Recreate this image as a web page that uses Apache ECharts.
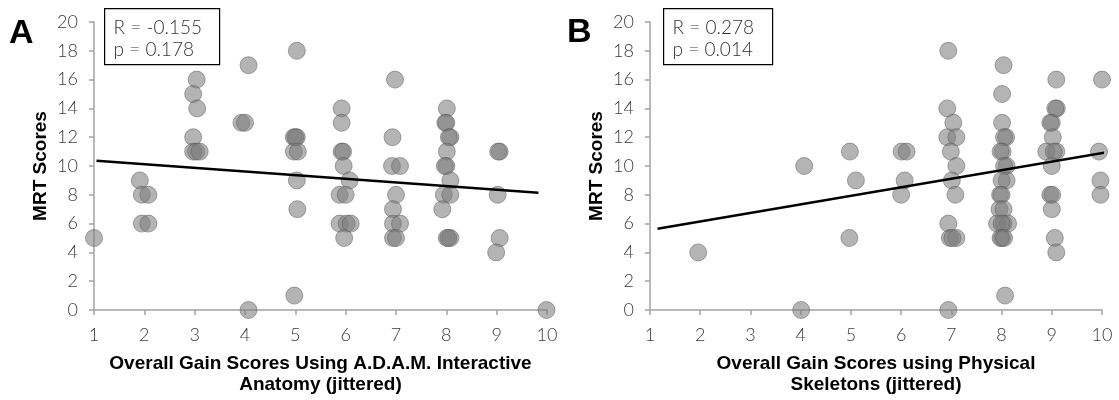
<!DOCTYPE html>
<html><head><meta charset="utf-8">
<script src="https://cdn.jsdelivr.net/npm/echarts@6/dist/echarts.min.js"></script>
<style>html,body{margin:0;padding:0;background:#fff;overflow:hidden}#c{width:1119px;height:400px}</style>
</head><body><div id="c"></div>
<script>
// Panel A: A.D.A.M. Interactive Anatomy (jittered gain scores) vs MRT
const xA = [1.0,1.91,1.95,2.08,1.95,2.08,
  3.04,2.97,3.05,2.97,2.97,3.03,3.1,
  4.07,3.93,4.0,4.07,
  5.03,4.97,5.03,5.0,4.97,5.05,5.03,5.04,4.98,
  5.92,5.92,5.92,5.95,5.96,6.08,5.88,6.0,5.88,6.02,6.1,5.97,
  6.98,6.93,6.92,7.08,7.0,6.94,6.94,7.08,6.94,7.0,
  8.01,7.98,8.0,8.08,8.05,8.01,8.0,7.97,8.08,7.95,8.08,7.92,8.01,8.08,8.04,
  9.06,9.03,9.02,9.06,8.99,9.99];
const yA = [5,9,8,8,6,6,
  16,15,14,12,11,11,11,
  17,13,13,0,
  18,12,12,12,11,11,9,7,1,
  14,13,11,11,10,9,8,8,6,6,6,5,
  16,12,10,10,8,7,6,6,5,5,
  14,13,13,12,12,11,10,10,9,8,8,7,5,5,5,
  11,11,8,5,4,0];
// Panel B: Physical Skeletons
const xB = [1.96,4.07,4.01,4.98,5.1,4.97,
  6.01,6.11,6.07,6.0,
  6.94,6.92,7.04,6.92,7.1,6.99,7.1,7.01,7.08,6.94,6.97,7.1,7.02,6.94,
  8.04,8.01,8.01,8.09,8.05,8.02,7.98,8.1,8.05,8.1,8.0,7.97,8.0,7.96,8.04,7.91,8.04,8.13,8.0,8.01,7.98,8.05,8.07,
  9.09,9.1,9.07,9.0,8.97,9.02,8.89,9.09,9.04,9.0,8.97,9.01,9.0,9.06,9.09,
  10.0,9.94,9.97,9.97];
const yB = [4,10,0,11,9,5,
  11,11,9,8,
  18,14,13,12,12,11,10,9,8,6,5,5,5,0,
  17,15,13,12,12,11,11,10,10,9,9,8,8,7,7,6,6,6,6,5,5,5,1,
  16,14,14,13,13,12,11,11,11,10,8,8,7,5,4,
  16,11,9,8];
// Fitted regression lines (endpoints)
const fitA = [[1.05,10.36],[9.83,8.15]];
const fitB = [[1.15,5.64],[10.05,10.93]];
const statsA = ['R = -0.155','p = 0.178'];
const statsB = ['R = 0.278','p = 0.014'];
const xTitleA = 'Overall Gain Scores Using A.D.A.M. Interactive\nAnatomy (jittered)';
const xTitleB = 'Overall Gain Scores using Physical\nSkeletons (jittered)';
const yTitle = 'MRT Scores';

const zip = (xs, ys) => xs.map((x, i) => [x, ys[i]]);
const tickFont = {fontFamily:'Lato', fontWeight:300, fontSize:18, color:'#3a3a3a'};
const axisGray = '#a3a3a3';
const titleFont = {fontFamily:'Liberation Sans', fontWeight:'bold', fontSize:19, color:'#000', lineHeight:21};

function xAxis(idx, name){
  return {gridIndex:idx, type:'value', min:1, max:10, interval:1,
    name:name, nameLocation:'middle', nameGap:43,
    nameTextStyle:titleFont,
    axisLine:{show:true, onZero:false, lineStyle:{color:axisGray, width:1.5}},
    axisTick:{show:true, length:5, lineStyle:{color:axisGray, width:1.5}},
    axisLabel:{margin:16, ...tickFont}, splitLine:{show:false}};
}
function yAxis(idx){
  return {gridIndex:idx, type:'value', min:0, max:20, interval:2,
    name:yTitle, nameLocation:'middle', nameGap:43, nameRotate:90,
    nameTextStyle:titleFont,
    axisLine:{show:true, onZero:false, lineStyle:{color:axisGray, width:1.5}},
    axisTick:{show:true, length:5, lineStyle:{color:axisGray, width:1.5}},
    axisLabel:{margin:16, ...tickFont}, splitLine:{show:false}};
}
function scatter(idx, data){
  return {type:'scatter', xAxisIndex:idx, yAxisIndex:idx, data:data, symbolSize:17, clip:false,
    itemStyle:{color:'rgba(125,125,125,0.72)', borderColor:'rgba(85,85,85,0.6)', borderWidth:1},
    silent:true, animation:false, z:2};
}
function fit(idx, data){
  return {type:'line', xAxisIndex:idx, yAxisIndex:idx, data:data, symbol:'none',
    lineStyle:{color:'#000', width:2.5}, silent:true, animation:false, z:3};
}
function statBox(left, width, lines){
  return {type:'group', left:left, top:8, children:[
    {type:'rect', shape:{x:0, y:0, width:width, height:56}, style:{fill:'#fff', stroke:'#000', lineWidth:1.2}},
    {type:'text', x:9, y:8, style:{text:lines.join('\n'), font:'300 19px Lato', fill:'#333', lineHeight:22}}
  ]};
}

const chart = echarts.init(document.getElementById('c'), null, {renderer:'canvas'});
chart.setOption({
  animation:false,
  backgroundColor:'#fff',
  grid:[{left:94, right:572, top:22, bottom:81}, {left:650, right:17, top:22, bottom:81}],
  xAxis:[xAxis(0, xTitleA), xAxis(1, xTitleB)],
  yAxis:[yAxis(0), yAxis(1)],
  series:[scatter(0, zip(xA, yA)), fit(0, fitA), scatter(1, zip(xB, yB)), fit(1, fitB)],
  graphic:[
    {type:'text', left:9, top:17, style:{text:'A', font:'bold 34px "Liberation Sans"', fill:'#000'}},
    {type:'text', left:567, top:16, style:{text:'B', font:'bold 34px "Liberation Sans"', fill:'#000'}},
    statBox(104, 115, statsA),
    statBox(663, 109, statsB)
  ]
});
</script></body></html>
